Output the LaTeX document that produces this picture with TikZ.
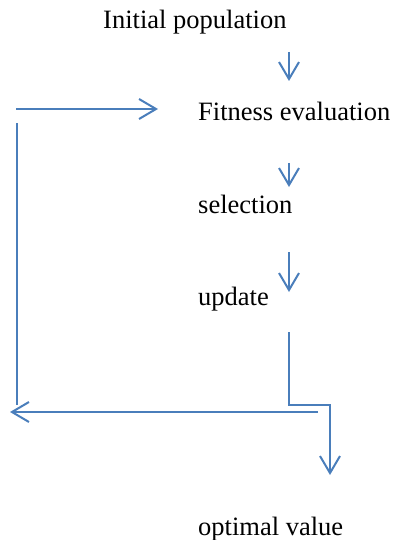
\documentclass[tikz,border=0pt]{standalone}
\usepackage{fontspec}
\setmainfont{Liberation Serif}
\usetikzlibrary{arrows.meta}
\definecolor{flowblue}{RGB}{74,126,187}

\begin{document}
\begin{tikzpicture}[x=1pt,y=-1pt,
    flow/.style={draw=flowblue,line width=2pt},
    arr/.style={flow,-{Straight Barb[length=17pt,width=20pt]}},
    lbl/.style={anchor=base west,inner sep=0pt,font=\fontsize{26.5}{30}\selectfont}]
    \useasboundingbox (0,0) rectangle (392,540);

    \node[lbl] (init) at (103,29) {Initial population};
    \node[lbl] (fit) at (198,121) {Fitness evaluation};
    \node[lbl] (sel) at (198,213) {selection};
    \node[lbl] (upd) at (198,305) {update};
    \node[lbl] (opt) at (198,535) {optimal value};

    \coordinate (a1s) at (289,52);  \coordinate (a1e) at (289,81);
    \coordinate (a2s) at (289,163); \coordinate (a2e) at (289,187);
    \coordinate (a3s) at (289,252); \coordinate (a3e) at (289,292);
    \coordinate (outs) at (289,332); \coordinate (outc) at (330,405);
    \coordinate (oute) at (330,475);
    \coordinate (backs) at (318,412); \coordinate (backe) at (10,412);
    \coordinate (ups) at (17,405); \coordinate (upe) at (17,123);
    \coordinate (tops) at (16,109); \coordinate (tope) at (158,109);

    \foreach \s/\e in {a1s/a1e,a2s/a2e,a3s/a3e,backs/backe,tops/tope}
      \draw[arr] (\s) -- (\e);
    \draw[arr] (outs) |- (outc) -- (oute);
    \draw[flow] (ups) -- (upe);
\end{tikzpicture}
\end{document}
